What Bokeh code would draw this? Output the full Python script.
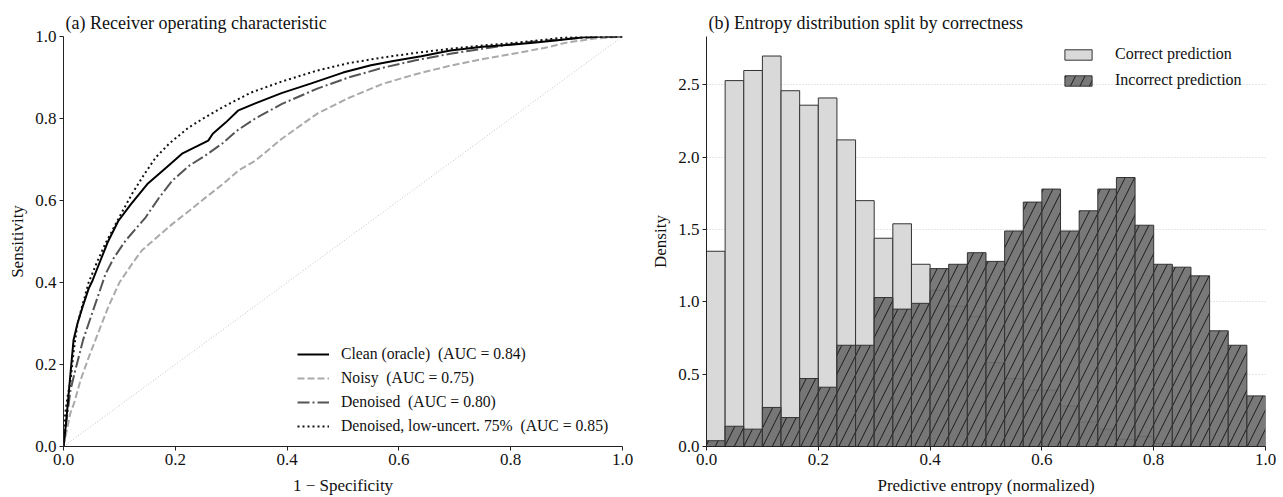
from bokeh.plotting import figure
from bokeh.layouts import row
from bokeh.models import Range1d, Legend, LegendItem, FixedTicker, NumeralTickFormatter
from bokeh.embed import file_html
from bokeh.resources import INLINE

# ---- ROC data ----
clean_fpr = [0, 0.004, 0.007, 0.0125, 0.018, 0.025, 0.034, 0.045, 0.052, 0.065, 0.079, 0.098, 0.12, 0.15, 0.182, 0.213, 0.24, 0.259, 0.267, 0.29, 0.313, 0.343, 0.39, 0.442, 0.5, 0.55, 0.59, 0.64, 0.692, 0.75, 0.8, 0.84, 0.88, 0.93, 0.97, 1.0]
clean_tpr = [0, 0.05, 0.095, 0.178, 0.26, 0.30, 0.34, 0.385, 0.405, 0.45, 0.498, 0.55, 0.59, 0.64, 0.678, 0.715, 0.733, 0.746, 0.763, 0.79, 0.82, 0.837, 0.862, 0.885, 0.912, 0.93, 0.94, 0.952, 0.966, 0.975, 0.98, 0.985, 0.99, 0.998, 1.0, 1.0]

noisy_fpr = [0, 0.006, 0.012, 0.02, 0.03, 0.045, 0.06, 0.08, 0.1, 0.123, 0.14, 0.16, 0.195, 0.225, 0.254, 0.285, 0.313, 0.343, 0.39, 0.454, 0.51, 0.572, 0.63, 0.692, 0.75, 0.812, 0.86, 0.9, 0.95, 1.0]
noisy_tpr = [0, 0.04, 0.08, 0.11, 0.16, 0.217, 0.27, 0.34, 0.40, 0.446, 0.478, 0.502, 0.543, 0.575, 0.607, 0.64, 0.673, 0.697, 0.75, 0.812, 0.85, 0.885, 0.908, 0.929, 0.945, 0.96, 0.972, 0.985, 0.995, 1.0]

den_fpr = [0, 0.005, 0.0125, 0.02, 0.027, 0.035, 0.045, 0.06, 0.075, 0.09, 0.111, 0.147, 0.17, 0.195, 0.225, 0.254, 0.284, 0.31, 0.343, 0.39, 0.454, 0.51, 0.572, 0.63, 0.692, 0.75, 0.81, 0.86, 0.92, 0.96, 1.0]
den_tpr = [0, 0.06, 0.137, 0.18, 0.217, 0.26, 0.30, 0.36, 0.42, 0.46, 0.502, 0.559, 0.605, 0.649, 0.685, 0.71, 0.739, 0.77, 0.80, 0.835, 0.873, 0.90, 0.924, 0.942, 0.958, 0.97, 0.983, 0.99, 0.996, 0.999, 1.0]

low_fpr = [0, 0.003, 0.007, 0.0125, 0.018, 0.025, 0.035, 0.045, 0.06, 0.075, 0.1, 0.123, 0.145, 0.165, 0.19, 0.224, 0.25, 0.284, 0.335, 0.39, 0.454, 0.51, 0.572, 0.63, 0.692, 0.75, 0.812, 0.86, 0.9, 0.95, 1.0]
low_tpr = [0, 0.08, 0.12, 0.16, 0.23, 0.30, 0.35, 0.40, 0.45, 0.495, 0.56, 0.617, 0.665, 0.705, 0.74, 0.778, 0.80, 0.827, 0.863, 0.89, 0.917, 0.935, 0.949, 0.96, 0.97, 0.978, 0.985, 0.992, 0.998, 1.0, 1.0]

roc_labels = ["Clean (oracle)  (AUC = 0.84)", "Noisy  (AUC = 0.75)", "Denoised  (AUC = 0.80)",
              "Denoised, low-uncert. 75%  (AUC = 0.85)"]

# ---- Histogram data (30 bins on [0, 1], density) ----
n_bins = 30
correct_density = [1.35, 2.53, 2.60, 2.70, 2.46, 2.36, 2.41, 2.12, 1.70, 1.44, 1.54, 1.26,
                   1.08, 0.97, 0.90, 0.58, 0.47, 0.39, 0.39, 0.28, 0.17, 0.12, 0.05, 0.07,
                   0.02, 0.01, 0.0, 0.0, 0.0, 0.0]
incorrect_density = [0.04, 0.14, 0.12, 0.27, 0.20, 0.47, 0.41, 0.70, 0.70, 1.03, 0.95, 0.99,
                     1.23, 1.26, 1.34, 1.28, 1.49, 1.69, 1.78, 1.49, 1.63, 1.78, 1.86, 1.53,
                     1.26, 1.24, 1.18, 0.80, 0.70, 0.35]
hist_labels = ["Correct prediction", "Incorrect prediction"]

FONT = "Liberation Serif"
edges = [i / n_bins for i in range(n_bins + 1)]
lefts, rights = edges[:-1], edges[1:]


def style(p):
    p.title.text_font = FONT
    p.title.text_font_size = "18px"
    p.title.text_font_style = "normal"
    p.title.text_color = "#111111"
    p.title.offset = 2
    p.title.standoff = 7
    p.outline_line_color = None
    for ax in (p.xaxis[0], p.yaxis[0]):
        ax.axis_label_text_font = FONT
        ax.axis_label_text_font_size = "17px"
        ax.axis_label_text_font_style = "normal"
        ax.axis_label_text_color = "#111111"
        ax.major_label_text_font = FONT
        ax.major_label_text_font_size = "17px"
        ax.major_label_text_color = "#111111"
        ax.axis_line_color = "#222222"
        ax.major_tick_line_color = "#222222"
        ax.major_tick_out = 4
        ax.major_tick_in = 0
        ax.minor_tick_line_color = None
        ax.major_label_standoff = 3
        ax.axis_label_standoff = 5
    p.xaxis[0].axis_label_standoff = 8


# ---- Left: ROC ----
p1 = figure(width=638, height=497, output_backend="svg", toolbar_location=None,
            x_range=Range1d(0, 1), y_range=Range1d(0, 1),
            min_border_left=63, min_border_right=16, min_border_top=36, min_border_bottom=51,
            title="(a) Receiver operating characteristic")
p1.xaxis.axis_label = "1 \u2212 Specificity"
p1.yaxis.axis_label = "Sensitivity"
style(p1)
p1.xgrid.grid_line_color = None
p1.ygrid.grid_line_color = None
tick = FixedTicker(ticks=[0, 0.2, 0.4, 0.6, 0.8, 1.0])
p1.xaxis.ticker = tick
p1.yaxis.ticker = tick
p1.xaxis.formatter = NumeralTickFormatter(format="0.0")
p1.yaxis.formatter = NumeralTickFormatter(format="0.0")

p1.line([0, 1], [0, 1], line_color="#c0c0c0", line_width=1, line_dash="1 2")
r_noisy = p1.line(noisy_fpr, noisy_tpr, line_color="#aaaaaa", line_width=2, line_dash="7 3")
r_den = p1.line(den_fpr, den_tpr, line_color="#555555", line_width=2, line_dash="12 3 2 3")
r_clean = p1.line(clean_fpr, clean_tpr, line_color="#000000", line_width=2)
r_low = p1.line(low_fpr, low_tpr, line_color="#111111", line_width=2, line_dash="2 3")

leg1 = Legend(items=[LegendItem(label=roc_labels[0], renderers=[r_clean]),
                     LegendItem(label=roc_labels[1], renderers=[r_noisy]),
                     LegendItem(label=roc_labels[2], renderers=[r_den]),
                     LegendItem(label=roc_labels[3], renderers=[r_low])],
              location=(234, 11), background_fill_alpha=0, border_line_color=None,
              label_text_font=FONT, label_text_font_size="15.7px", label_text_color="#111111",
              glyph_width=32, glyph_height=16, label_height=16, label_standoff=12, spacing=6,
              padding=0, margin=0)
p1.add_layout(leg1, "center")

# ---- Right: histogram ----
ymax = max(correct_density) * 1.05
p2 = figure(width=645, height=497, output_backend="svg", toolbar_location=None,
            x_range=Range1d(0, 1), y_range=Range1d(0, ymax),
            min_border_left=68, min_border_right=18, min_border_top=36, min_border_bottom=51,
            title="(b) Entropy distribution split by correctness")
p2.xaxis.axis_label = "Predictive entropy (normalized)"
p2.yaxis.axis_label = "Density"
style(p2)
p2.xgrid.grid_line_color = None
p2.ygrid.grid_line_color = "#cccccc"
p2.ygrid.grid_line_dash = "1 2"
p2.ygrid.grid_line_width = 1
p2.xaxis.ticker = FixedTicker(ticks=[0, 0.2, 0.4, 0.6, 0.8, 1.0])
p2.yaxis.ticker = FixedTicker(ticks=[0, 0.5, 1.0, 1.5, 2.0, 2.5])
p2.xaxis.formatter = NumeralTickFormatter(format="0.0")
p2.yaxis.formatter = NumeralTickFormatter(format="0.0")

r_c = p2.quad(left=lefts, right=rights, bottom=0, top=correct_density,
              fill_color="#d9d9d9", line_color="#333333", line_width=1)
r_i = p2.quad(left=lefts, right=rights, bottom=0, top=incorrect_density,
              fill_color="#6e6e6e", fill_alpha=0.92, line_color="#333333", line_width=1,
              hatch_pattern="/", hatch_color="#111111", hatch_scale=19, hatch_weight=1,
              hatch_alpha=0.9)

leg2 = Legend(items=[LegendItem(label=hist_labels[0], renderers=[r_c]),
                     LegendItem(label=hist_labels[1], renderers=[r_i])],
              location=(355, 357), background_fill_alpha=0, border_line_color=None,
              label_text_font=FONT, label_text_font_size="16px", label_text_color="#111111",
              glyph_width=34, glyph_height=13, label_height=16, label_standoff=20, spacing=8,
              padding=0, margin=0)
p2.add_layout(leg2, "center")

layout = row(p1, p2)
open("out.html", "w").write(file_html(layout, INLINE))
